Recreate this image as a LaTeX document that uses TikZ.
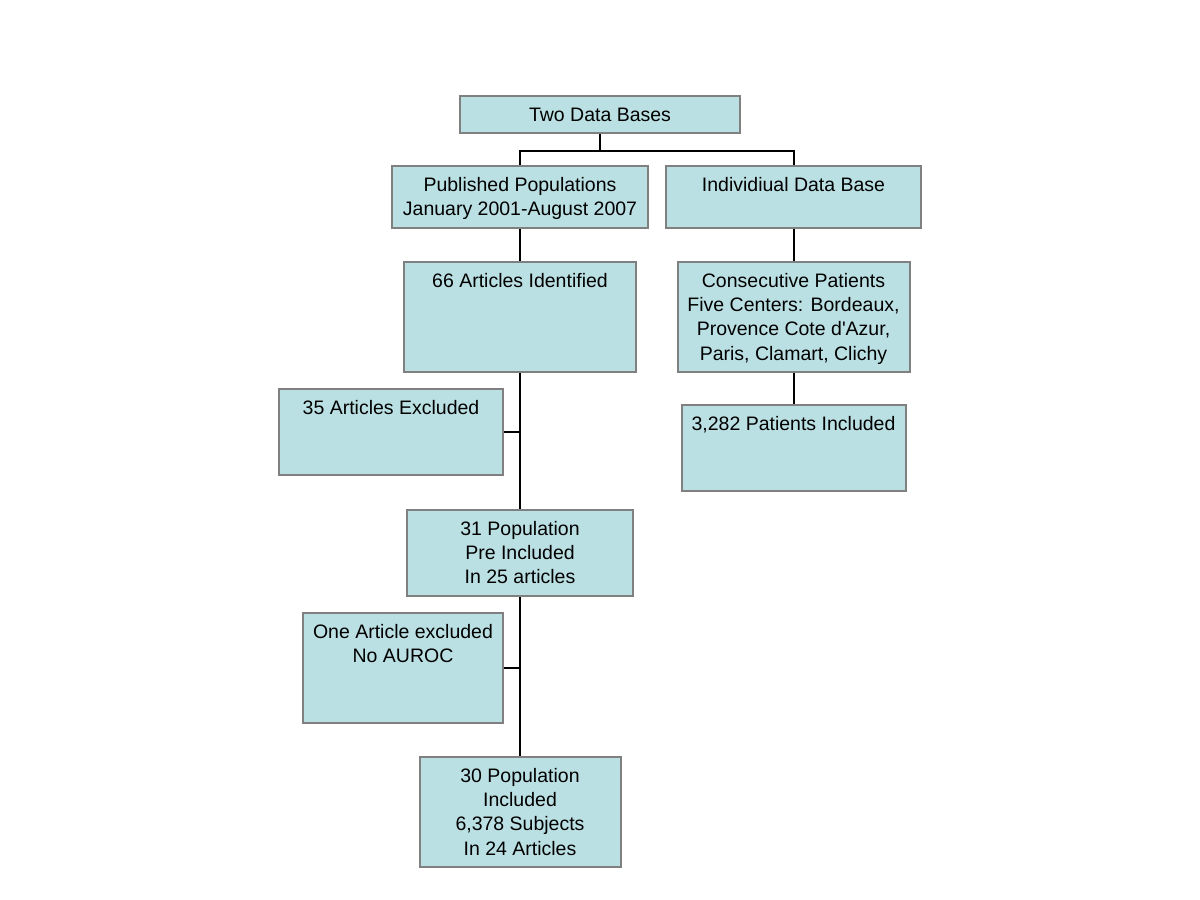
\documentclass[tikz,border=0pt]{standalone}
\usepackage{fontspec}
\setmainfont{Liberation Sans}
\usetikzlibrary{calc}
\definecolor{boxfill}{HTML}{BBE0E3}
\definecolor{boxborder}{HTML}{808080}
\tikzset{
  box/.style={draw=boxborder, fill=boxfill, line width=1pt, rectangle, anchor=north west, inner sep=0pt},
  txt/.style={anchor=north, inner sep=0pt, align=center, font=\fontsize{9.75}{12.1}\selectfont},
  conn/.style={draw=black, line width=1pt}
}
\newcommand{\flowbox}[7]{%
  \node[box, minimum width=#4*0.5pt, minimum height=#5*0.5pt] (#1) at (#2,#3) {};
  \node[txt] (#1t) at ($(#1.north)+(0,#6)$) {#7};
}
\begin{document}
\begin{tikzpicture}[x=0.5pt, y=-0.5pt]
\useasboundingbox[fill=white] (0,0) rectangle (1200,900);
\node[box, minimum width=140pt, minimum height=18.5pt] (b1) at (459,95) {};
\node[txt, anchor=center] (b1t) at (b1.center) {Two Data Bases};
\flowbox{b2}{391}{165}{256}{62}{12}{Published Populations\\January 2001-August 2007}
\flowbox{b3}{665}{165}{255}{62}{12}{Individiual Data Base}
\flowbox{b4}{403}{261}{232}{110}{12}{66 Articles Identified}
\flowbox{b5}{676.5}{261}{232}{110}{12}{Consecutive Patients\\Five Centers: Bordeaux,\\Provence Cote d\textquotesingle Azur,\\Paris, Clamart, Clichy}
\flowbox{b6}{278}{388}{224}{86}{12}{35 Articles Excluded}
\flowbox{b7}{680.5}{404}{224}{86}{12}{3,282 Patients Included}
\flowbox{b8}{406}{509}{226}{86}{12}{31 Population\\Pre Included\\In 25 articles}
\flowbox{b9}{302}{612}{200}{110}{12}{One Article excluded\\No AUROC}
\flowbox{b10}{418.5}{756}{201}{110}{12}{30 Population\\Included\\6,378 Subjects\\In 24 Articles}
\coordinate (j) at ($(b1.south)+(0,17)$);
\draw[conn] (b1.south) -- (j);
\draw[conn] (b2.north) |- (j) -| (b3.north);
\draw[conn] (b2.south) -- (b4.north);
\draw[conn] (b4.south) -- (b8.north);
\draw[conn] (b6.east) -- (b6.east -| b4.south);
\draw[conn] (b8.south) -- (b10.north);
\draw[conn] (b9.east) -- (b9.east -| b8.south);
\draw[conn] (b3.south) -- (b5.north);
\draw[conn] (b5.south) -- (b7.north);
\end{tikzpicture}
\end{document}
